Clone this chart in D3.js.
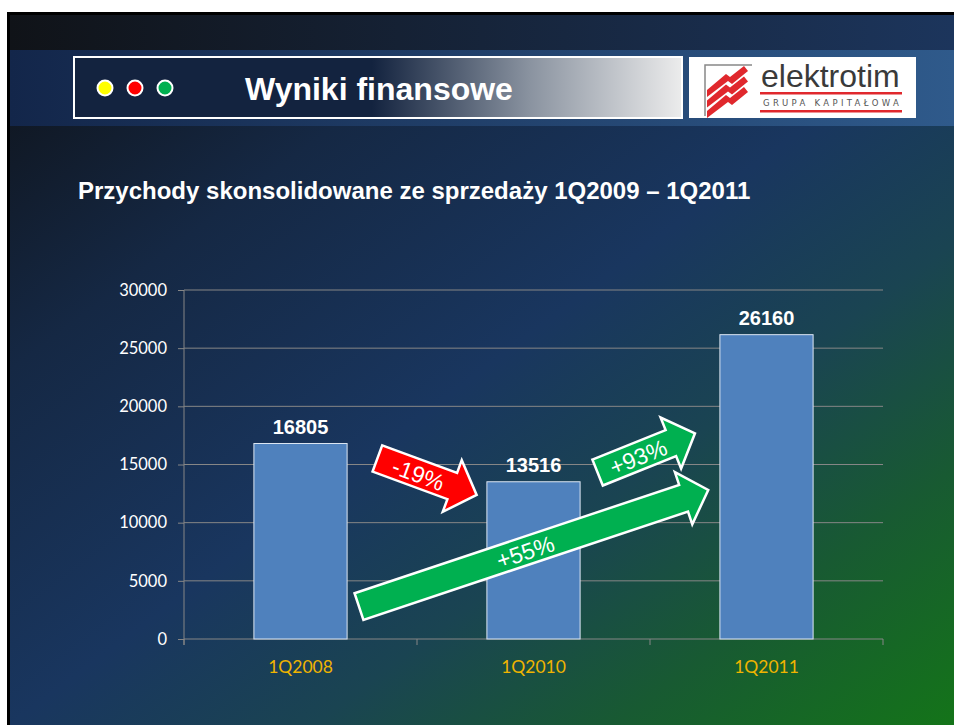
<!DOCTYPE html>
<html>
<head>
<meta charset="utf-8">
<script src="https://cdn.jsdelivr.net/npm/d3@7"></script>
<style>
body { margin: 0; background: #fff; }
svg { display: block; }
</style>
</head>
<body>
<script>
var width = 954, height = 725;

// chart data
var categories = ["1Q2008", "1Q2010", "1Q2011"];
var revenue = [16805, 13516, 26160];
var yTicks = [0, 5000, 10000, 15000, 20000, 25000, 30000];

// growth arrows: ends given as [category position, value]
var arrowLabels = ["-19%", "+93%", "+55%"];
var arrowColors = ["#ff0000", "#00b050", "#00b050"];
var arrowFrom = [[0.83, 15520], [1.775, 14310], [0.751, 2790]];
var arrowTo = [[1.256, 12380], [2.193, 17680], [2.25, 12810]];

var x = d3.scaleBand()
  .domain(categories)
  .range([184, 883])
  .paddingInner(0.6)
  .paddingOuter(0.3);

var y = d3.scaleLinear()
  .domain([0, 30000])
  .range([639, 290]);

function xPos(p) {
  return x.range()[0] + p * x.step();
}

var svg = d3.select("body")
  .append("svg")
  .attr("width", width)
  .attr("height", height);

var defs = svg.append("defs");

function gradient(id, x2, y2, stops) {
  var g = defs.append("linearGradient")
    .attr("id", id)
    .attr("x1", 0).attr("y1", 0)
    .attr("x2", x2).attr("y2", y2);
  stops.forEach(function(s) {
    g.append("stop").attr("offset", s[0]).attr("stop-color", s[1]);
  });
}

gradient("bgGrad", 1, 1, [[0, "#0e1116"], [0.25, "#152844"], [0.5, "#19365f"], [0.66, "#1a4452"], [0.82, "#185a32"], [1, "#147419"]]);
gradient("topGrad", 1, 0, [[0, "#101318"], [1, "#1c355c"]]);
gradient("bandGrad", 1, 0, [[0, "#13264a"], [1, "#2f5a8b"]]);
gradient("titleGrad", 1, 0, [[0, "#13233f"], [0.49, "#13233f"], [0.75, "#8a93a0"], [1, "#ececec"]]);

// slide background
svg.append("rect").attr("x", 7).attr("y", 12).attr("width", width - 7).attr("height", height - 12).attr("fill", "#000");
svg.append("rect").attr("x", 10).attr("y", 15).attr("width", width - 10).attr("height", height - 15).attr("fill", "url(#bgGrad)");
svg.append("rect").attr("x", 10).attr("y", 15).attr("width", width - 10).attr("height", 35).attr("fill", "url(#topGrad)");
svg.append("rect").attr("x", 10).attr("y", 50).attr("width", width - 10).attr("height", 76).attr("fill", "url(#bandGrad)");

// title box
svg.append("rect")
  .attr("x", 74).attr("y", 57).attr("width", 608).attr("height", 61)
  .attr("fill", "url(#titleGrad)")
  .attr("stroke", "#fff").attr("stroke-width", 2);

svg.selectAll(".dot")
  .data(["#ffff00", "#ff0000", "#00b050"])
  .enter()
  .append("circle")
  .attr("class", "dot")
  .attr("cx", function(d, i) { return 105 + i * 30; })
  .attr("cy", 88)
  .attr("r", 7.5)
  .attr("fill", function(d) { return d; })
  .attr("stroke", "#fff")
  .attr("stroke-width", 2);

svg.append("text")
  .attr("x", 245).attr("y", 100)
  .attr("font-family", "Liberation Sans, Arial, sans-serif")
  .attr("font-weight", "bold")
  .attr("font-size", 32)
  .attr("fill", "#fff")
  .text("Wyniki finansowe");

// logo
var logo = svg.append("g");
logo.append("rect")
  .attr("x", 689).attr("y", 57).attr("width", 227).attr("height", 61)
  .attr("fill", "#fff");
logo.append("path")
  .attr("d", "M705,116 L705,65 L752,65")
  .attr("fill", "none").attr("stroke", "#888").attr("stroke-width", 1.5);
[0, 1, 2].forEach(function(i) {
  var oy = i * 10.5;
  logo.append("path")
    .attr("d", "M707," + (90 + oy) + " L726," + (74 + oy) + " L730," + (77 + oy) + " L744," + (66 + oy) +
      " L748," + (71 + oy) + " L732," + (84 + oy) + " L728," + (81 + oy) + " L707," + (97 + oy) + " Z")
    .attr("fill", "#e0282d");
});
logo.append("text")
  .attr("x", 761).attr("y", 87)
  .attr("font-family", "Liberation Sans, Arial, sans-serif")
  .attr("font-size", 32)
  .attr("fill", "#3a3a3a")
  .text("elektrotim");
logo.append("rect").attr("x", 760).attr("y", 92).attr("width", 142).attr("height", 2.5).attr("fill", "#e0282d");
logo.append("rect").attr("x", 760).attr("y", 110).attr("width", 142).attr("height", 2.5).attr("fill", "#e0282d");
logo.append("text")
  .attr("x", 763).attr("y", 106)
  .attr("font-family", "DejaVu Sans, sans-serif")
  .attr("font-size", 8.5)
  .attr("letter-spacing", 3.3)
  .attr("fill", "#555")
  .text("GRUPA KAPITAŁOWA");

// subtitle
svg.append("text")
  .attr("x", 78).attr("y", 199)
  .attr("font-family", "Liberation Sans, Arial, sans-serif")
  .attr("font-weight", "bold")
  .attr("font-size", 24)
  .attr("fill", "#fff")
  .text("Przychody skonsolidowane ze sprzedaży 1Q2009 – 1Q2011");

// gridlines
svg.selectAll(".grid")
  .data(yTicks)
  .enter()
  .append("line")
  .attr("class", "grid")
  .attr("x1", 184).attr("x2", 883)
  .attr("y1", function(d) { return y(d); })
  .attr("y2", function(d) { return y(d); })
  .attr("stroke", "#868686")
  .attr("stroke-width", 1);

// y axis
var yAxis = svg.append("g")
  .attr("transform", "translate(184,0)")
  .call(d3.axisLeft(y).tickValues(yTicks).tickSize(6).tickPadding(11).tickFormat(d3.format("d")));
yAxis.select(".domain").attr("stroke", "#868686").attr("d", "M0,290V645");
yAxis.selectAll(".tick line").attr("stroke", "#868686");
yAxis.selectAll(".tick text")
  .attr("fill", "#fff")
  .attr("font-family", "Lato, sans-serif")
  .attr("font-size", 16.5);

// x axis
var xAxis = svg.append("g")
  .attr("transform", "translate(0,639)")
  .call(d3.axisBottom(x).tickSize(0).tickPadding(22));
xAxis.select(".domain").remove();
xAxis.selectAll(".tick text")
  .attr("fill", "#f0b400")
  .attr("font-family", "Lato, sans-serif")
  .attr("font-size", 17.5);

svg.selectAll(".xtick")
  .data(d3.range(categories.length + 1))
  .enter()
  .append("line")
  .attr("class", "xtick")
  .attr("x1", function(d) { return xPos(d); })
  .attr("x2", function(d) { return xPos(d); })
  .attr("y1", 639).attr("y2", 645)
  .attr("stroke", "#868686");

// bars
svg.selectAll(".bar")
  .data(revenue)
  .enter()
  .append("rect")
  .attr("class", "bar")
  .attr("x", function(d, i) { return x(categories[i]); })
  .attr("y", function(d) { return y(d); })
  .attr("width", x.bandwidth())
  .attr("height", function(d) { return y(0) - y(d); })
  .attr("fill", "#4f81bd")
  .attr("stroke", "#dce6f2")
  .attr("stroke-width", 1);

svg.selectAll(".barLabel")
  .data(revenue)
  .enter()
  .append("text")
  .attr("class", "barLabel")
  .attr("x", function(d, i) { return x(categories[i]) + x.bandwidth() / 2; })
  .attr("y", function(d) { return y(d) - 10; })
  .attr("text-anchor", "middle")
  .attr("font-family", "Liberation Sans, Arial, sans-serif")
  .attr("font-weight", "bold")
  .attr("font-size", 20)
  .attr("fill", "#fff")
  .text(function(d) { return d; });

// arrows
var shaftW = 28, headW = 55, headL = 26;
var arrows = svg.selectAll(".arrow")
  .data(arrowLabels)
  .enter()
  .append("g")
  .attr("class", "arrow")
  .attr("transform", function(d, i) {
    var x0 = xPos(arrowFrom[i][0]), y0 = y(arrowFrom[i][1]);
    var x1 = xPos(arrowTo[i][0]), y1 = y(arrowTo[i][1]);
    var ang = Math.atan2(y1 - y0, x1 - x0) * 180 / Math.PI;
    return "translate(" + x0 + "," + y0 + ") rotate(" + ang + ")";
  });

function arrowLength(i) {
  var dx = xPos(arrowTo[i][0]) - xPos(arrowFrom[i][0]);
  var dy = y(arrowTo[i][1]) - y(arrowFrom[i][1]);
  return Math.sqrt(dx * dx + dy * dy);
}

arrows.append("path")
  .attr("d", function(d, i) {
    var L = arrowLength(i);
    return "M0," + (-shaftW / 2) + " L" + (L - headL) + "," + (-shaftW / 2) +
      " L" + (L - headL) + "," + (-headW / 2) + " L" + L + ",0" +
      " L" + (L - headL) + "," + (headW / 2) + " L" + (L - headL) + "," + (shaftW / 2) +
      " L0," + (shaftW / 2) + " Z";
  })
  .attr("fill", function(d, i) { return arrowColors[i]; })
  .attr("stroke", "#fff")
  .attr("stroke-width", 2.5)
  .attr("stroke-linejoin", "miter");

arrows.append("text")
  .attr("x", function(d, i) { return (arrowLength(i) - headL) / 2 + 4; })
  .attr("y", 1)
  .attr("text-anchor", "middle")
  .attr("dominant-baseline", "central")
  .attr("font-family", "Liberation Sans, Arial, sans-serif")
  .attr("font-size", 23)
  .attr("fill", "#fff")
  .text(function(d) { return d; });
</script>
</body>
</html>
